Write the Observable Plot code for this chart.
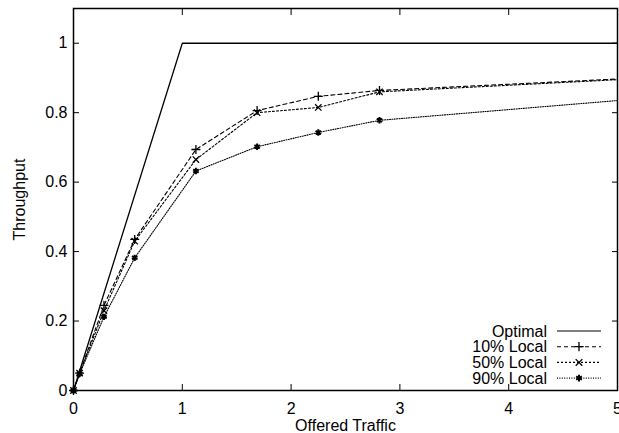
<!DOCTYPE html>
<html>
<head>
<meta charset="utf-8">
<script src="https://cdn.jsdelivr.net/npm/d3@7"></script>
<script src="https://cdn.jsdelivr.net/npm/@observablehq/plot@0.6"></script>
<style>
  html, body { margin: 0; padding: 0; background: #fff; }
  #chart { position: relative; width: 619px; height: 433px; }
</style>
</head>
<body>
<div id="chart"></div>
<script>
// ---- data ----
const offered = [0, 0.056, 0.28, 0.5625, 1.125, 1.6875, 2.25, 2.8125, 5];
const local10 = [0, 0.05, 0.245, 0.435, 0.694, 0.806, 0.847, 0.864, 0.897];
const local50 = [0, 0.05, 0.23, 0.43, 0.665, 0.800, 0.815, 0.860, 0.895];
const local90 = [0, 0.048, 0.212, 0.382, 0.632, 0.702, 0.743, 0.778, 0.835];
const optimalX = [0, 1, 5];
const optimalY = [0, 1, 1];
const seriesNames = ["Optimal", "10% Local", "50% Local", "90% Local"];
const xTicks = [0, 1, 2, 3, 4, 5];
const yTicks = [0, 0.2, 0.4, 0.6, 0.8, 1];

// ---- styles ----
const dashes = {"Optimal": null, "10% Local": "4,3", "50% Local": "2,2", "90% Local": "1,1.4"};
const symbols = {"Optimal": null, "10% Local": "plus", "50% Local": "times", "90% Local": "asterisk"};

const rows = [];
optimalX.forEach((x, i) => rows.push({series: "Optimal", x, y: optimalY[i]}));
[["10% Local", local10], ["50% Local", local50], ["90% Local", local90]].forEach(([s, ys]) =>
  offered.forEach((x, i) => rows.push({series: s, x, y: ys[i]})));

const lineMarks = seriesNames.map(s => Plot.line(rows.filter(d => d.series === s), {
  x: "x", y: "y", stroke: "black", strokeWidth: s === "Optimal" ? 1.3 : 1.1, strokeDasharray: dashes[s]
}));
const dotMarks = seriesNames.filter(s => symbols[s]).map(s => Plot.dot(rows.filter(d => d.series === s && d.x < 5), {
  x: "x", y: "y", symbol: () => symbols[s], r: 3, stroke: "black", strokeWidth: symbols[s] === "asterisk" ? 2 : 1.3, fill: "none"
}));

const font = "'Liberation Sans', Arial, Helvetica, sans-serif";
const chart = Plot.plot({
  width: 619, height: 433,
  marginLeft: 73, marginRight: 2, marginTop: 8, marginBottom: 43,
  style: {fontFamily: font, fontSize: "16px", background: "white", color: "black", overflow: "visible"},
  x: {domain: [0, 5]},
  y: {domain: [0, 1.1]},
  marks: [
    Plot.axisX({ticks: xTicks, tickSize: -6, tickPadding: 18, tickFormat: d => String(d),
      label: "Offered Traffic", labelAnchor: "center", labelOffset: 40, labelArrow: "none", fontSize: 16}),
    Plot.axisX({anchor: "top", ticks: xTicks, tickSize: -6, tickFormat: () => "", label: null}),
    Plot.axisY({ticks: yTicks, tickSize: -6, tickPadding: 12, tickFormat: d => String(d),
      label: "Throughput", labelAnchor: "center", labelOffset: 60, labelArrow: "none", fontSize: 16}),
    Plot.axisY({anchor: "right", ticks: yTicks, tickSize: -6, tickFormat: () => "", label: null}),
    ...lineMarks,
    ...dotMarks,
    Plot.frame({stroke: "black", strokeWidth: 1.5})
  ]
});
document.getElementById("chart").appendChild(chart);

// ---- legend (inside plot, bottom-right) ----
const svg = d3.select(chart);
const legend = svg.append("g").attr("font-family", font).attr("font-size", 16);
const legendRight = 547, lineX1 = 557, lineX2 = 601, rowTop = 331, rowStep = 15.7;
const symbolPath = {
  "plus": d3.symbol(d3.symbolPlus, 30)(),
  "times": d3.symbol(d3.symbolTimes, 30)(),
  "asterisk": d3.symbol(d3.symbolAsterisk, 30)()
};
seriesNames.forEach((s, i) => {
  const y = rowTop + i * rowStep;
  legend.append("text").attr("x", legendRight).attr("y", y).attr("dy", "0.35em")
    .attr("text-anchor", "end").attr("fill", "black").text(s);
  legend.append("line").attr("x1", lineX1).attr("x2", lineX2).attr("y1", y).attr("y2", y)
    .attr("stroke", "black").attr("stroke-width", 1.1).attr("stroke-dasharray", dashes[s]);
  if (symbols[s]) {
    legend.append("path").attr("d", symbolPath[symbols[s]])
      .attr("transform", `translate(${(lineX1 + lineX2) / 2},${y})`)
      .attr("fill", "none").attr("stroke", "black")
      .attr("stroke-width", symbols[s] === "asterisk" ? 2 : 1.3);
  }
});
</script>
</body>
</html>
